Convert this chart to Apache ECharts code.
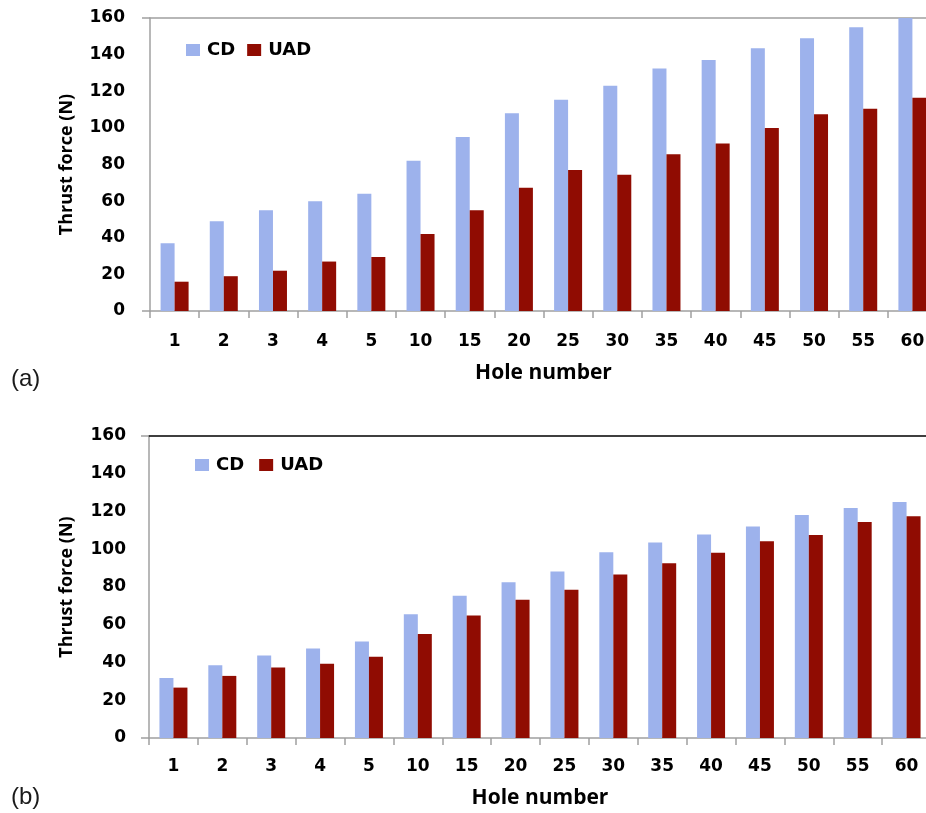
<!DOCTYPE html>
<html>
<head>
<meta charset="utf-8">
<script src="https://cdn.jsdelivr.net/npm/echarts@6/dist/echarts.min.js"></script>
<style>
html,body{margin:0;padding:0;background:#fff;}
#chart{width:926px;height:813px;}
</style>
</head>
<body>
<div id="chart"></div>
<script>
const categories = ['1','2','3','4','5','10','15','20','25','30','35','40','45','50','55','60'];
const seriesNames = ['CD','UAD'];
const cdA  = [37,49,55,60,64,82,95,108,115.3,123,132.4,137,143.5,149,155,160];
const uadA = [16,19,22,27,29.5,42,55,67.3,77,74.4,85.6,91.4,100,107.5,110.5,116.4];
const cdB  = [31.8,38.5,43.7,47.4,51.1,65.6,75.3,82.5,88.2,98.4,103.6,107.8,112,118.2,121.8,125];
const uadB = [26.7,32.9,37.3,39.4,43.1,55.1,64.9,73.3,78.5,86.6,92.6,98.1,104.3,107.5,114.4,117.5];
const yMin = 0, yMax = 160, yStep = 20;
const panelLabels = ['(a)','(b)'];
const xTitle = 'Hole number';
const yTitle = 'Thrust force (N)';

const CD_COLOR = '#9DB2EC';
const UAD_COLOR = '#900C02';
const AXIS_GRAY = '#A0A0A0';
const tickFont = {fontFamily:'DejaVu Sans', fontWeight:'bold', fontSize:17, color:'#000'};
const nameFont = {fontFamily:'Open Sans', fontWeight:'bold', fontSize:21, color:'#000'};
const yNameFont = {fontFamily:'Open Sans', fontWeight:'bold', fontSize:18, color:'#000'};

function xAxes(gi, labelMargin, nameGap, topColor){
  return [{
    type:'category', gridIndex:gi, data:categories, position:'bottom',
    boundaryGap:true,
    axisLine:{show:true, lineStyle:{color:AXIS_GRAY, width:1.5}},
    axisTick:{show:true, alignWithLabel:false, length:7, lineStyle:{color:AXIS_GRAY, width:1.5}},
    axisLabel:Object.assign({margin:labelMargin, interval:0}, tickFont),
    name:xTitle, nameLocation:'middle', nameGap:nameGap, nameTextStyle:nameFont,
    splitLine:{show:false}
  },{
    type:'category', gridIndex:gi, data:categories, position:'top',
    axisLine:{show:true, lineStyle:{color:topColor, width:1.5}},
    axisTick:{show:false}, axisLabel:{show:false}, splitLine:{show:false}
  }];
}
function yAxis(gi, labelMargin, nameGap){
  return {
    type:'value', gridIndex:gi, min:yMin, max:yMax, interval:yStep,
    axisLine:{show:true, lineStyle:{color:AXIS_GRAY, width:1.5}},
    axisTick:{show:true, length:8, customValues:[yMin,yMax], lineStyle:{color:AXIS_GRAY, width:1.5}},
    axisLabel:Object.assign({margin:labelMargin}, tickFont),
    splitLine:{show:false},
    name:yTitle, nameLocation:'middle', nameGap:nameGap, nameRotate:90, nameTextStyle:yNameFont
  };
}
function bars(name, data, color, xi, yi){
  return {
    type:'bar', name:name, data:data, xAxisIndex:xi, yAxisIndex:yi,
    barWidth:14, barGap:'0%',
    itemStyle:{color:color},
    emphasis:{disabled:true}
  };
}
const legendText = {fontFamily:'DejaVu Sans', fontWeight:'bold', fontSize:18, color:'#000', padding:[0,0,0,2]};

const chart = echarts.init(document.getElementById('chart'), null, {renderer:'canvas'});
chart.setOption({
  animation:false,
  backgroundColor:'#fff',
  grid:[
    {left:150, top:18, width:787, height:293, outerBoundsMode:'none', containLabel:false},
    {left:149, top:436, width:782, height:302, outerBoundsMode:'none', containLabel:false}
  ],
  legend:[
    {data:seriesNames, left:186, top:41, padding:0, itemWidth:14, itemHeight:12, itemGap:12,
     textStyle:legendText, icon:'rect', selectedMode:false},
    {data:seriesNames, left:195, top:456, padding:0, itemWidth:14, itemHeight:12, itemGap:15,
     textStyle:legendText, icon:'rect', selectedMode:false}
  ],
  xAxis:[].concat(xAxes(0, 22, 52, AXIS_GRAY), xAxes(1, 20, 50, '#000')),
  yAxis:[yAxis(0, 25, 74), yAxis(1, 23, 73)],
  series:[
    bars(seriesNames[0], cdA, CD_COLOR, 0, 0),
    bars(seriesNames[1], uadA, UAD_COLOR, 0, 0),
    bars(seriesNames[0], cdB, CD_COLOR, 2, 1),
    bars(seriesNames[1], uadB, UAD_COLOR, 2, 1)
  ],
  graphic:[
    {type:'text', left:11, top:367, style:{text:panelLabels[0], font:'24px "Liberation Sans", Arial, sans-serif', fill:'#1a1a1a'}},
    {type:'text', left:11, top:785, style:{text:panelLabels[1], font:'24px "Liberation Sans", Arial, sans-serif', fill:'#1a1a1a'}}
  ]
});
</script>
</body>
</html>
